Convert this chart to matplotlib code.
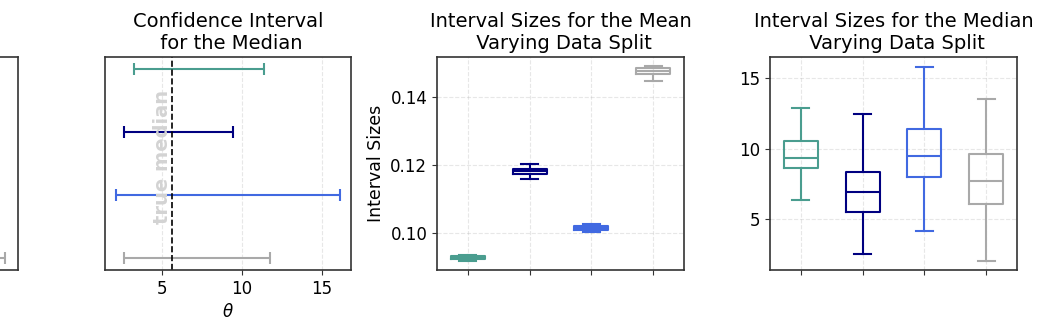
import numpy as np
import matplotlib
matplotlib.use("Agg")
from matplotlib import pyplot as plt

# colours for the four data splits
colors = ["#4a9d8f", "navy", "royalblue", "darkgray"]

# confidence intervals for the mean (only the far right of this panel is in frame)
mean_lo = [-0.050, -0.060, -0.050, -0.070]
mean_hi = [0.043, 0.058, 0.052, 0.080]
true_mean = 0.0

# confidence intervals for the median
median_lo = [3.25, 2.62, 2.11, 2.62]
median_hi = [11.40, 9.42, 16.14, 11.75]
true_median = 5.63

# interval size distributions, mean: (whislo, q1, med, q3, whishi)
mean_whislo = [0.09162, 0.1160, 0.10038, 0.14471]
mean_q1 = [0.0922, 0.1174, 0.1010, 0.14676]
mean_med = [0.0927, 0.1181, 0.10153, 0.14765]
mean_q3 = [0.0931, 0.1189, 0.1021, 0.14844]
mean_whishi = [0.09353, 0.1202, 0.10256, 0.14921]

# interval size distributions, median
med_whislo = [6.36, 2.50, 4.15, 2.01]
med_q1 = [8.63, 5.47, 7.97, 6.08]
med_med = [9.31, 6.93, 9.46, 7.69]
med_q3 = [10.57, 8.35, 11.41, 9.60]
med_whishi = [12.85, 12.43, 15.80, 13.49]

plt.rcParams['font.family'] = ['DejaVu Sans']
spine_col = '#333333'

fig = plt.figure(figsize=(10.47, 3.30), dpi=100)
W, H = 1047, 330
bot = (H - 270) / H
hgt = 213 / H
ax0 = fig.add_axes([-228 / W, bot, 246 / W, hgt])
ax1 = fig.add_axes([105 / W, bot, 246 / W, hgt])
ax2 = fig.add_axes([437 / W, bot, 247 / W, hgt])
ax3 = fig.add_axes([770 / W, bot, 247 / W, hgt])

ypos = [3, 2, 1, 0]


def ci_panel(ax, lo, hi, truth):
    for y, a, b, c in zip(ypos, lo, hi, colors):
        mid = (a + b) / 2
        ax.errorbar(mid, y, xerr=[[mid - a], [b - mid]], fmt='none',
                    ecolor=c, elinewidth=1.5, capsize=4, capthick=1.5)
    ax.axvline(truth, color='black', ls='--', lw=1.2)
    ax.set_ylim(-0.19, 3.19)
    ax.set_yticks([])
    ax.grid(axis='x', ls='--', alpha=0.3)


# left panel is cut by the frame edge, keep only its marks
ci_panel(ax0, mean_lo, mean_hi, true_mean)
ax0.set_xlim(-0.10, 0.09)
ax0.set_xticks([])

ci_panel(ax1, median_lo, median_hi, true_median)
ax1.set_xlim(1.44, 16.81)
ax1.set_xticks([5, 10, 15])
ax1.set_xlabel(r'$\theta$', fontsize=12)
ax1.set_title('Confidence Interval\n for the Median', fontsize=14)
ax1.text(true_median, 1.6, 'true median', rotation=90, ha='right', va='center',
         color='lightgray', fontsize=14, fontweight='bold')


def box_panel(ax, lo, q1, med, q3, hi):
    stats = []
    for i in range(4):
        stats.append(dict(whislo=lo[i], q1=q1[i], med=med[i], q3=q3[i],
                          whishi=hi[i], fliers=[]))
    bp = ax.bxp(stats, positions=[1, 2, 3, 4], widths=0.55, showfliers=False,
                patch_artist=False)
    for i, c in enumerate(colors):
        for art in [bp['boxes'][i], bp['medians'][i],
                    bp['whiskers'][2 * i], bp['whiskers'][2 * i + 1],
                    bp['caps'][2 * i], bp['caps'][2 * i + 1]]:
            art.set_color(c)
            art.set_linewidth(1.5)
    ax.set_xlim(0.5, 4.5)
    ax.set_xticks([1, 2, 3, 4])
    ax.set_xticklabels([])
    ax.grid(ls='--', alpha=0.3)


box_panel(ax2, mean_whislo, mean_q1, mean_med, mean_q3, mean_whishi)
ax2.set_ylim(0.0891, 0.1518)
ax2.set_yticks([0.10, 0.12, 0.14])
ax2.set_ylabel('Interval Sizes', fontsize=12.5)
ax2.set_title('Interval Sizes for the Mean\n Varying Data Split', fontsize=14)

box_panel(ax3, med_whislo, med_q1, med_med, med_q3, med_whishi)
ax3.set_ylim(1.39, 16.49)
ax3.set_yticks([5, 10, 15])
ax3.set_title('Interval Sizes for the Median\n Varying Data Split', fontsize=14)

for ax in [ax0, ax1, ax2, ax3]:
    for sp in ax.spines.values():
        sp.set_color(spine_col)
        sp.set_linewidth(1.2)
    ax.tick_params(labelsize=12, color=spine_col)

fig.savefig('out.png', dpi=100)
